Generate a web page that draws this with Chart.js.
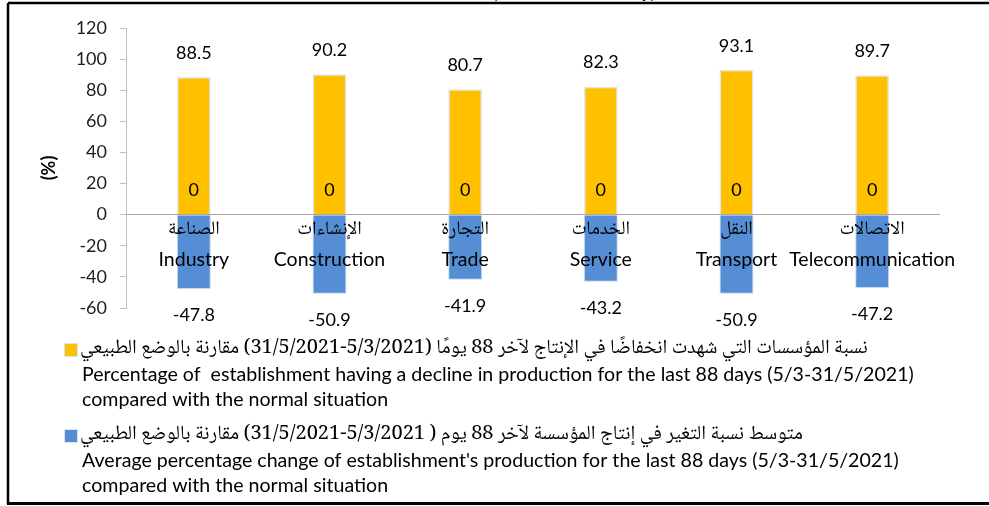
<!DOCTYPE html>
<html>
<head>
<meta charset="utf-8">
<script src="https://cdn.jsdelivr.net/npm/chart.js@4.4.1/dist/chart.umd.min.js"></script>
<style>
  html, body { margin: 0; padding: 0; background: #fff; }
  #wrap { width: 989px; height: 506px; }
</style>
</head>
<body>
<div id="wrap"><canvas id="chart" width="989" height="506"></canvas></div>
<script>
"use strict";

// sectors (Arabic over English) and the two series per sector
const sectorsAr = ["الصناعة", "الإنشاءات", "التجارة", "الخدمات", "النقل", "الاتصالات"];
const sectorsEn = ["Industry", "Construction", "Trade", "Service", "Transport", "Telecommunication"];
const declineShare = [88.5, 90.2, 80.7, 82.3, 93.1, 89.7];
const avgChange = [-47.8, -50.9, -41.9, -43.2, -50.9, -47.2];
const zeroRow = [0, 0, 0, 0, 0, 0];
const yTicks = [120, 100, 80, 60, 40, 20, 0, -20, -40, -60];

const legendAr = [
    "نسبة المؤسسات التي شهدت انخفاضًا في الإنتاج لآخر 88 يومًا (5/3/2021-31/5/2021) مقارنة بالوضع الطبيعي",
    "متوسط نسبة التغير في إنتاج المؤسسة لآخر 88 يوم ( 5/3/2021-31/5/2021) مقارنة بالوضع الطبيعي"
];
const legendEn = [
    ["Percentage of  establishment having a decline in production for the last 88 days (5/3-31/5/2021)", "compared with the normal situation"],
    ["Average percentage change of establishment's production for the last 88 days (5/3-31/5/2021)", "compared with the normal situation"]
];
const titleText = "(Economic Activity)";

const YELLOW = "#FFC000";
const BLUE = "#558ED5";
const LATIN = "Lato, 'Noto Sans', sans-serif";
const ARABIC = "'Noto Naskh Arabic', 'Noto Sans Arabic', 'DejaVu Sans', sans-serif";

const drawExtras = {
    id: "drawExtras",
    afterDatasetsDraw(chart) {
        const ctx = chart.ctx;
        const xs = chart.scales.x;
        const ys = chart.scales.y;
        ctx.save();
        ctx.fillStyle = "#000";
        ctx.textAlign = "center";
        ctx.textBaseline = "middle";

        // value labels just outside the end of each bar
        ctx.font = "18px " + LATIN;
        chart.data.datasets.forEach((ds, i) => {
            chart.getDatasetMeta(i).data.forEach((bar, j) => {
                const v = ds.data[j];
                const y = v >= 0 ? bar.y - 24 : bar.y + 26;
                ctx.fillText(String(v), bar.x, y);
            });
        });

        // sector names sit under the zero line, over the bars
        const zeroY = ys.getPixelForValue(0);
        sectorsEn.forEach((name, j) => {
            const x = xs.getPixelForValue(j);
            ctx.direction = "rtl";
            ctx.font = "19px " + ARABIC;
            ctx.fillText(sectorsAr[j], x, zeroY + 17);
            ctx.direction = "ltr";
            ctx.font = "19.5px " + LATIN;
            ctx.fillText(name, x, zeroY + 45);
        });
        ctx.restore();
    },
    afterDraw(chart) {
        const ctx = chart.ctx;
        ctx.save();

        // legend: swatch, Arabic line, then two English lines
        const colors = [YELLOW, BLUE];
        const tops = [350, 436];
        ctx.textBaseline = "middle";
        tops.forEach((y, k) => {
            ctx.fillStyle = colors[k];
            ctx.fillRect(65, y - 6, 12, 12);
            ctx.strokeStyle = "#dae3f3";
            ctx.lineWidth = 1;
            ctx.strokeRect(64.5, y - 6.5, 13, 13);
            ctx.fillStyle = "#000";
            ctx.direction = "rtl";
            ctx.textAlign = "left";
            ctx.font = "20px " + ARABIC;
            ctx.fillText(legendAr[k], 80, y);
            ctx.direction = "ltr";
            ctx.font = "19.6px " + LATIN;
            legendEn[k].forEach((line, n) => ctx.fillText(line, 82, y + 25 * (n + 1)));
        });

        // title, mostly above the top edge
        ctx.font = "bold 19px " + LATIN;
        ctx.textAlign = "center";
        ctx.textBaseline = "alphabetic";
        ctx.fillText(titleText, 574, -2);

        // frame
        ctx.strokeStyle = "#000";
        ctx.lineWidth = 2.5;
        ctx.beginPath();
        ctx.moveTo(8, 3);
        ctx.lineTo(989, 3);
        ctx.moveTo(8, 3);
        ctx.lineTo(8, 504);
        ctx.stroke();
        ctx.lineWidth = 3;
        ctx.beginPath();
        ctx.moveTo(7, 503.5);
        ctx.lineTo(989, 503.5);
        ctx.stroke();
        ctx.restore();
    }
};

new Chart(document.getElementById("chart"), {
    type: "bar",
    data: {
        labels: sectorsEn,
        datasets: [
            {
                label: legendEn[0].join(" "),
                data: declineShare,
                backgroundColor: YELLOW,
                borderColor: "#dbe5f3",
                borderWidth: 1.5,
                grouped: false,
                barPercentage: 0.25,
                categoryPercentage: 1
            },
            {
                label: legendEn[1].join(" "),
                data: avgChange,
                backgroundColor: BLUE,
                borderColor: "#c6d7ee",
                borderWidth: 1,
                grouped: false,
                barPercentage: 0.25,
                categoryPercentage: 1
            },
            {
                label: "",
                data: zeroRow,
                backgroundColor: "rgba(0,0,0,0)",
                borderWidth: 0,
                grouped: false,
                barPercentage: 0.25,
                categoryPercentage: 1
            }
        ]
    },
    options: {
        responsive: false,
        animation: false,
        devicePixelRatio: 1,
        layout: { padding: { top: 28, right: 49, bottom: 198, left: 0 } },
        plugins: {
            legend: { display: false },
            tooltip: { enabled: false },
            title: { display: false }
        },
        scales: {
            x: { display: false },
            y: {
                min: -60,
                max: 120,
                afterBuildTicks: scale => { scale.ticks = yTicks.map(v => ({ value: v })); },
                afterFit: scale => { scale.width = 126; },
                border: { display: true, color: "#bfbfbf", width: 1 },
                grid: {
                    color: c => (c.tick && c.tick.value === 0 ? "#a6a6a6" : "rgba(0,0,0,0)"),
                    tickColor: "#bfbfbf",
                    tickLength: 6,
                    lineWidth: 1
                },
                ticks: {
                    padding: 13,
                    color: "#1f1f1f",
                    font: { family: LATIN, size: 18 }
                },
                title: {
                    display: true,
                    text: "(%)",
                    color: "#000",
                    font: { family: LATIN, size: 18, weight: "bold" },
                    padding: { top: 38, bottom: 0 }
                }
            }
        }
    },
    plugins: [drawExtras]
});
</script>
</body>
</html>
